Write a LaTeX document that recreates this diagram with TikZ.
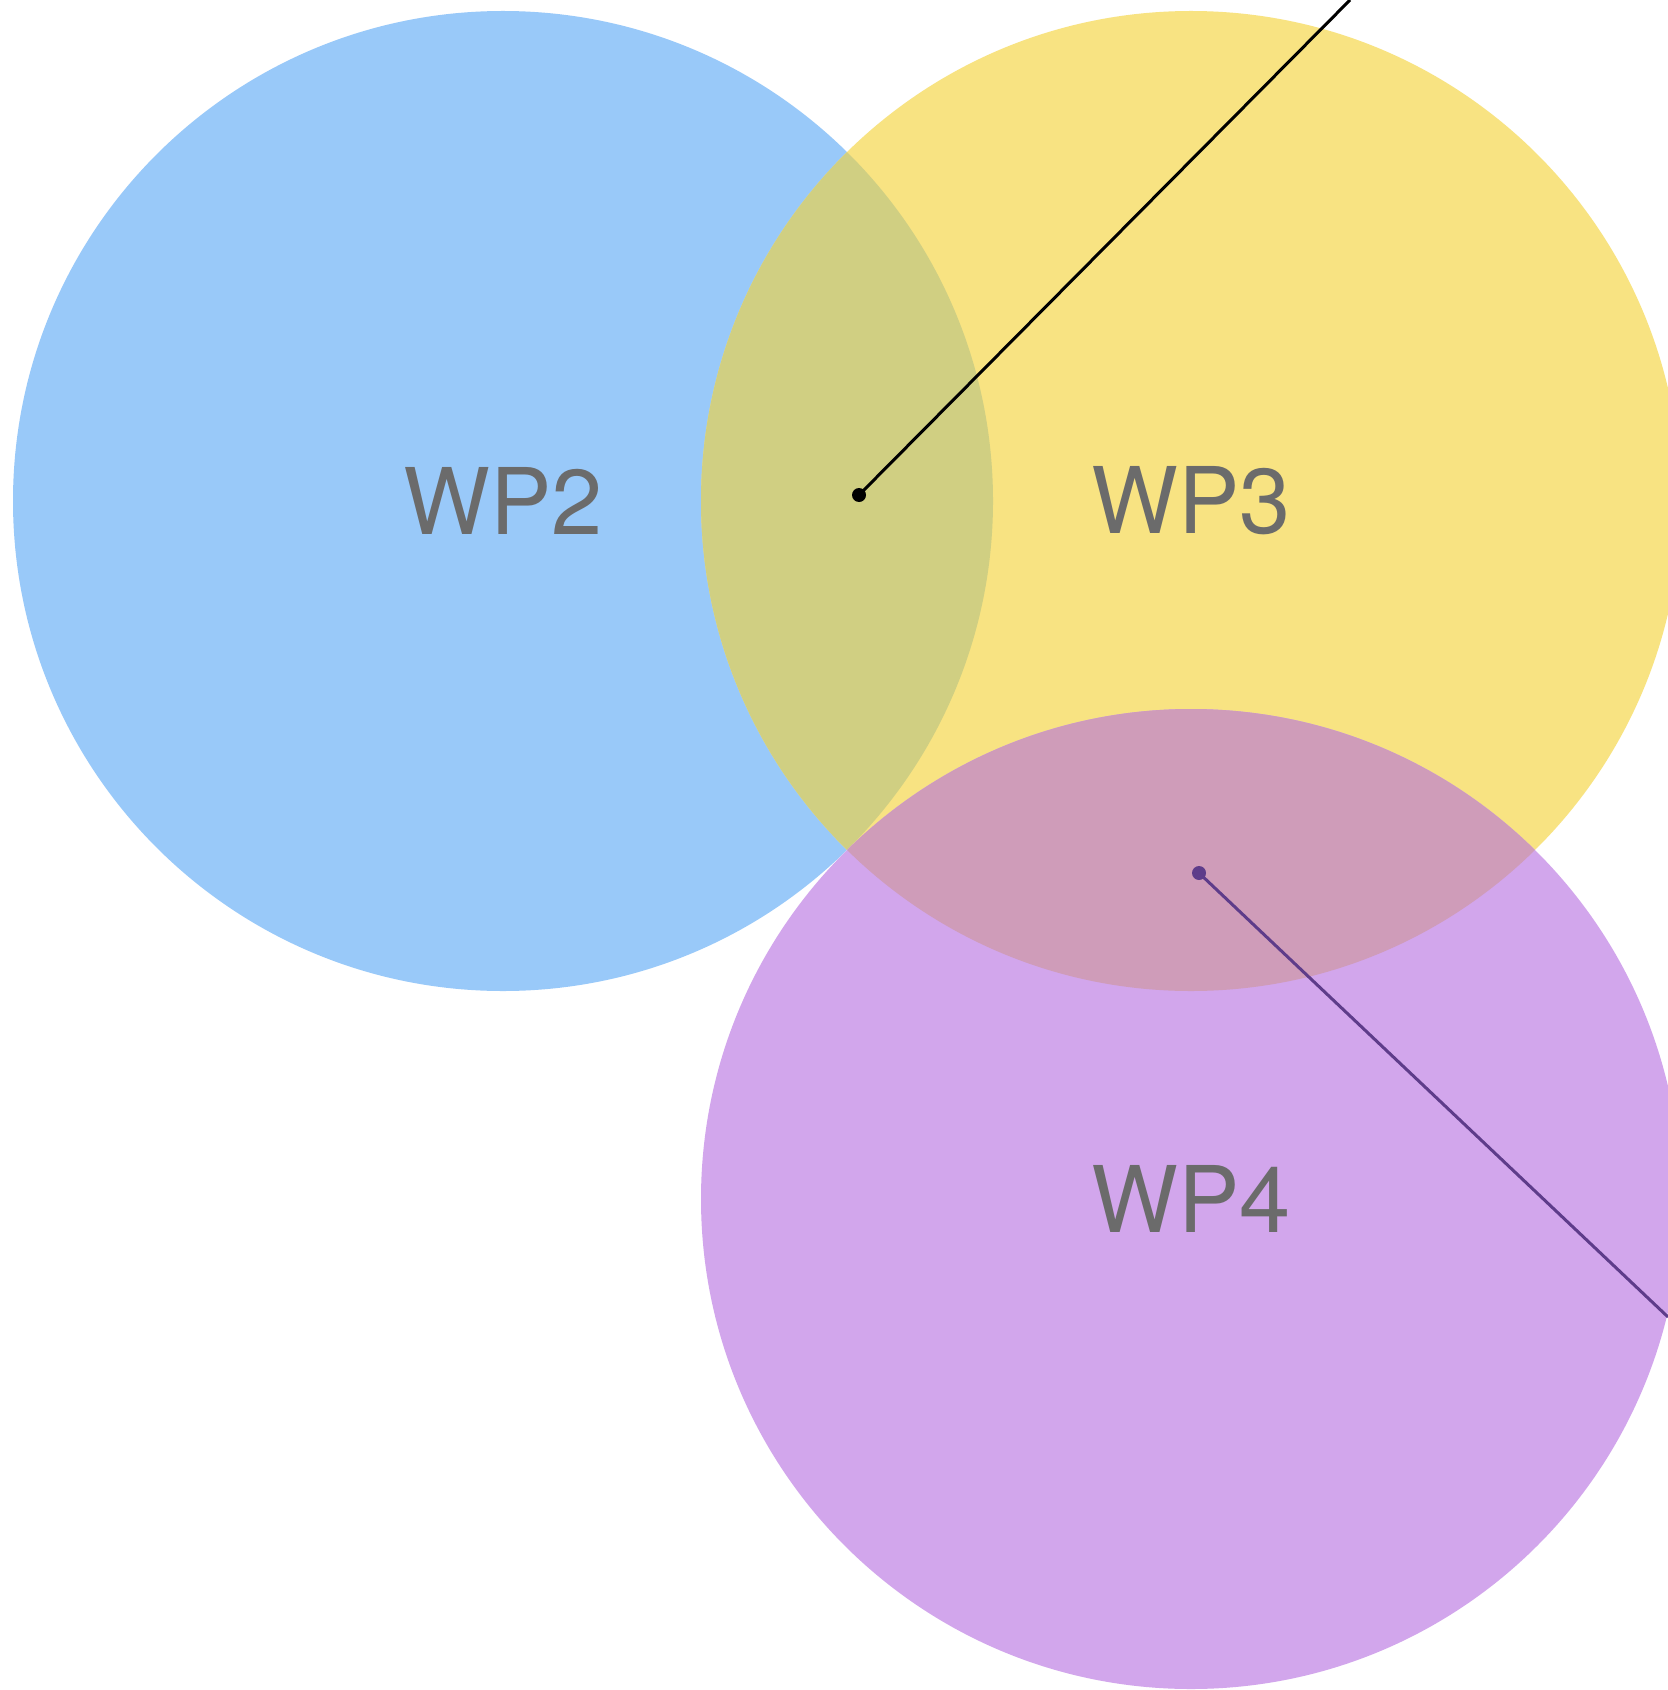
\documentclass[tikz,border=0pt]{standalone}
\usepackage{fontspec}
\setmainfont{TeX Gyre Heros}
\definecolor{cblue}{HTML}{99C9F9}
\definecolor{cyellow}{HTML}{F8E382}
\definecolor{cpurple}{HTML}{D2A6EC}
\definecolor{cby}{HTML}{D0CF82}
\definecolor{cyp}{HTML}{CF9CB9}
\definecolor{ctext}{HTML}{6B6B6B}
\definecolor{cdark}{HTML}{5E3C8A}
\tikzset{
  lbl/.style={text=ctext, font=\fontsize{46}{50}\selectfont, inner sep=0pt, anchor=center},
  dotnode/.style={circle, inner sep=0pt, minimum size=7pt},
}
\begin{document}
\begin{tikzpicture}[x=0.5pt, y=-0.5pt]
\clip (0,0) rectangle (1668,1690);
\useasboundingbox (0,0) rectangle (1668,1690);
\fill[white] (0,0) rectangle (1668,1690);
% circles
\fill[cblue] (503,501) circle [radius=245pt];
\fill[cyellow] (1191,501) circle [radius=245pt];
\begin{scope}
  \clip (503,501) circle [radius=245pt];
  \fill[cby] (1191,501) circle [radius=245pt];
\end{scope}
\fill[cpurple] (1191,1199) circle [radius=245pt];
\begin{scope}
  \clip (1191,501) circle [radius=245pt];
  \fill[cyp] (1191,1199) circle [radius=245pt];
\end{scope}
% labels
\node[lbl] (wp2) at (503,501) {WP2};
\node[lbl] (wp3) at (1191,501) {WP3};
\node[lbl] (wp4) at (1191,1199) {WP4};
% connectors
\coordinate (endA) at (1350,0);
\coordinate (endB) at (1668,1317);
\node[dotnode, fill=black] (dotA) at (859,495) {};
\node[dotnode, fill=cdark] (dotB) at (1199,873) {};
\draw[black, line width=1.5pt] (dotA.center) -- (endA);
\draw[cdark, line width=1.5pt] (dotB.center) -- (endB);
\end{tikzpicture}
\end{document}
